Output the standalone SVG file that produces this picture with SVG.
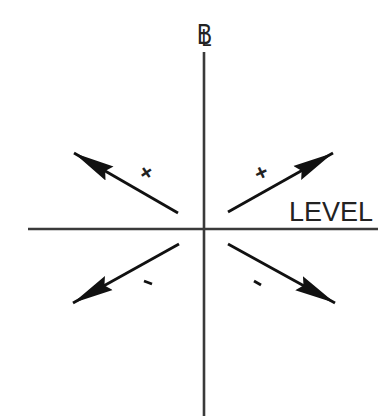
<svg xmlns="http://www.w3.org/2000/svg" width="382" height="416" viewBox="0 0 382 416">
<style>
.ax{stroke:#3a3a3a;stroke-width:2.6;fill:none}
.ar{stroke:#111;stroke-width:2.8;fill:none}
.t{font-family:"Liberation Sans",Arial,sans-serif;fill:#222}
</style>
<defs>
<marker id="h" markerUnits="userSpaceOnUse" markerWidth="44" markerHeight="18" refX="41" refY="9" orient="auto">
<path d="M0,1 L41,9 L0,17 L5,9 Z" fill="#111"/>
</marker>
</defs>
<rect width="382" height="416" fill="#fff"/>
<g id="axes">
<line class="ax" x1="204" y1="52" x2="204" y2="416"/>
<line class="ax" x1="28" y1="229" x2="378" y2="229"/>
</g>
<g id="connectors">
<line class="ar" x1="178" y1="213" x2="74" y2="153" marker-end="url(#h)"/>
<line class="ar" x1="228" y1="212" x2="333" y2="153" marker-end="url(#h)"/>
<line class="ar" x1="179" y1="244" x2="73" y2="303" marker-end="url(#h)"/>
<line class="ar" x1="228" y1="244" x2="335" y2="303" marker-end="url(#h)"/>
</g>
<g id="cl">
<text class="t" font-size="30" transform="translate(197 44) scale(0.75 1)">B<tspan dx="-14" dy="2" font-size="24">L</tspan></text>
</g>
<g id="level">
<text class="t" x="289" y="221" font-size="27">LEVEL</text>
</g>
<g id="signs">
<text class="t" x="146" y="180" font-size="22" font-weight="bold" text-anchor="middle" transform="rotate(-35 146 172)">+</text>
<text class="t" x="261" y="180" font-size="22" font-weight="bold" text-anchor="middle" transform="rotate(-25 261 172)">+</text>
<line class="ar" x1="144" y1="281" x2="152" y2="284"/>
<line class="ar" x1="254" y1="281" x2="261" y2="285"/>
</g>
</svg>
